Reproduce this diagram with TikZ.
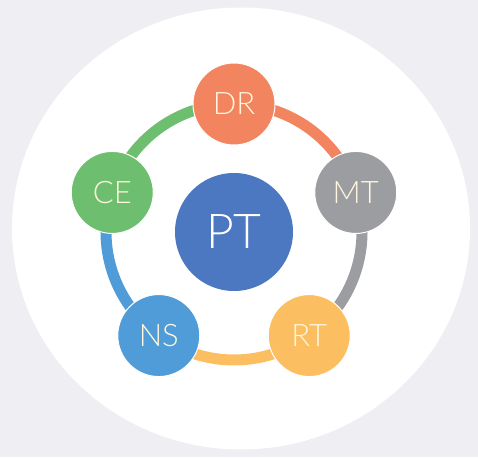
\documentclass[tikz,border=0pt]{standalone}
\usepackage{fontspec}
\setmainfont{Lato Light}
\usetikzlibrary{backgrounds}
\definecolor{bggray}{HTML}{EFEFF3}
\definecolor{cDR}{HTML}{F2845F}
\definecolor{cMT}{HTML}{9C9DA1}
\definecolor{cRT}{HTML}{FBBF61}
\definecolor{cNS}{HTML}{4F9CD8}
\definecolor{cCE}{HTML}{6DBE6E}
\definecolor{cPT}{HTML}{4B78C1}
\definecolor{ctext}{HTML}{FFF6DC}
\tikzset{
  bub/.style={circle, minimum size=82pt, inner sep=0pt, draw=white, line width=1pt,
    text=ctext, font=\fontsize{31}{31}\selectfont},
  hub/.style={circle, minimum size=118pt, inner sep=0pt, fill=cPT,
    text=white, font=\fontsize{48}{48}\selectfont},
  ring/.style={line width=11pt}
}
\begin{document}
\begin{tikzpicture}[x=1pt,y=1pt]
\useasboundingbox (0,0) rectangle (478,457);
\coordinate (C) at (234,225);
\node[hub] (PT) at (C) {PT};
\node[bub, fill=cDR] (DR) at ([shift={(90:128)}]C) {DR};
\node[bub, fill=cMT] (MT) at ([shift={(18:128)}]C) {MT};
\node[bub, fill=cRT] (RT) at ([shift={(-54:128)}]C) {RT};
\node[bub, fill=cNS] (NS) at ([shift={(-126:128)}]C) {NS};
\node[bub, fill=cCE] (CE) at ([shift={(162:128)}]C) {CE};
\begin{scope}[on background layer]
  \fill[bggray] (0,0) rectangle (478,457);
  \fill[white] (241,228.5) ellipse [x radius=229, y radius=221];
  \draw[ring, cCE] (CE.center) arc[start angle=162, end angle=90, radius=128];
  \draw[ring, cDR] (DR.center) arc[start angle=90, end angle=18, radius=128];
  \draw[ring, cMT] (MT.center) arc[start angle=18, end angle=-54, radius=128];
  \draw[ring, cRT] (RT.center) arc[start angle=-54, end angle=-126, radius=128];
  \draw[ring, cNS] (NS.center) arc[start angle=-126, end angle=-198, radius=128];
\end{scope}
\end{tikzpicture}
\end{document}
